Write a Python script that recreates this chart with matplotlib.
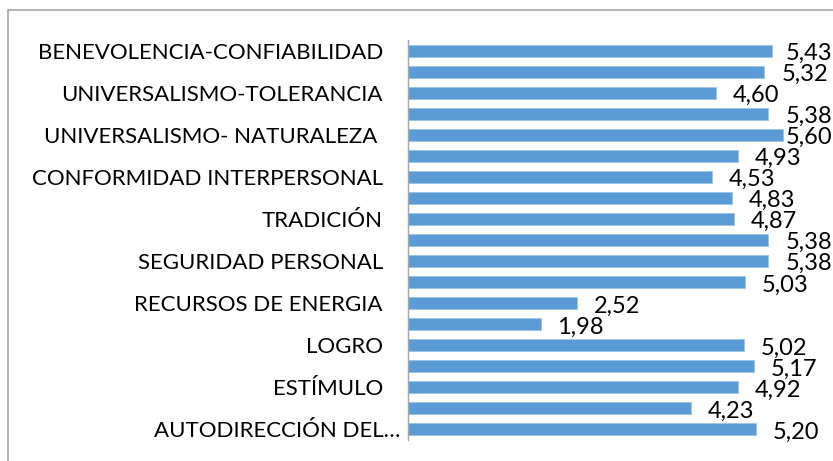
import matplotlib
matplotlib.use('Agg')
import matplotlib.pyplot as plt
import matplotlib.transforms as mtransforms
from matplotlib.patches import Rectangle

# Datos (de arriba hacia abajo)
values = [5.43, 5.32, 4.60, 5.38, 5.60, 4.93, 4.53, 4.83, 4.87, 5.38,
          5.38, 5.03, 2.52, 1.98, 5.02, 5.17, 4.92, 4.23, 5.20]
# Excel solo muestra una etiqueta de cada dos barras
tick_labels = ['BENEVOLENCIA-CONFIABILIDAD', 'UNIVERSALISMO-TOLERANCIA',
               'UNIVERSALISMO- NATURALEZA ', 'CONFORMIDAD INTERPERSONAL',
               'TRADICIÓN', 'SEGURIDAD PERSONAL', 'RECURSOS DE ENERGIA',
               'LOGRO', 'ESTÍMULO', 'AUTODIRECCIÓN DEL…']

BAR_COLOR = '#5B9BD5'
FONT = 'Lato'
FS = 16

fig = plt.figure(figsize=(8.33, 4.61), dpi=100)
ax = fig.add_axes([408 / 833, 1 - 440 / 461, 402 / 833, 400 / 461])

pos = list(range(len(values)))
ax.barh(pos, values, height=0.57, color=BAR_COLOR, edgecolor='#9DC3E6', linewidth=0.6)
ax.set_ylim(len(values) - 0.5, -0.5)
ax.set_xlim(0, 6)

for p, v in zip(pos, values):
    x = min(v + 0.25, 5.63)
    ax.annotate(f'{v:.2f}'.replace('.', ','), xy=(x, p), xytext=(0, -2),
                textcoords='offset points', ha='left', va='center',
                fontsize=17, family=FONT, color='black', annotation_clip=False)

ax.set_yticks(pos[::2])
ax.set_yticklabels(tick_labels, fontsize=FS, family=FONT)
ax.tick_params(axis='y', length=0, pad=18)
ax.set_xticks([])
for s in ['top', 'right', 'bottom']:
    ax.spines[s].set_visible(False)
ax.spines['left'].set_color('#A6A6A6')
ax.spines['left'].set_linewidth(1)

# la ultima etiqueta sobresale un poco hacia la derecha
lbl = ax.get_yticklabels()[-1]
lbl.set_transform(lbl.get_transform() + mtransforms.ScaledTranslation(17 / 100, 0, fig.dpi_scale_trans))

# borde del area del grafico
fig.patches.append(Rectangle((8 / 833, -0.1), 1.2, 1 - 10 / 461 + 0.1, transform=fig.transFigure,
                             fill=False, edgecolor='#A6A6A6', linewidth=1.2))

fig.savefig('out.png', dpi=100)
